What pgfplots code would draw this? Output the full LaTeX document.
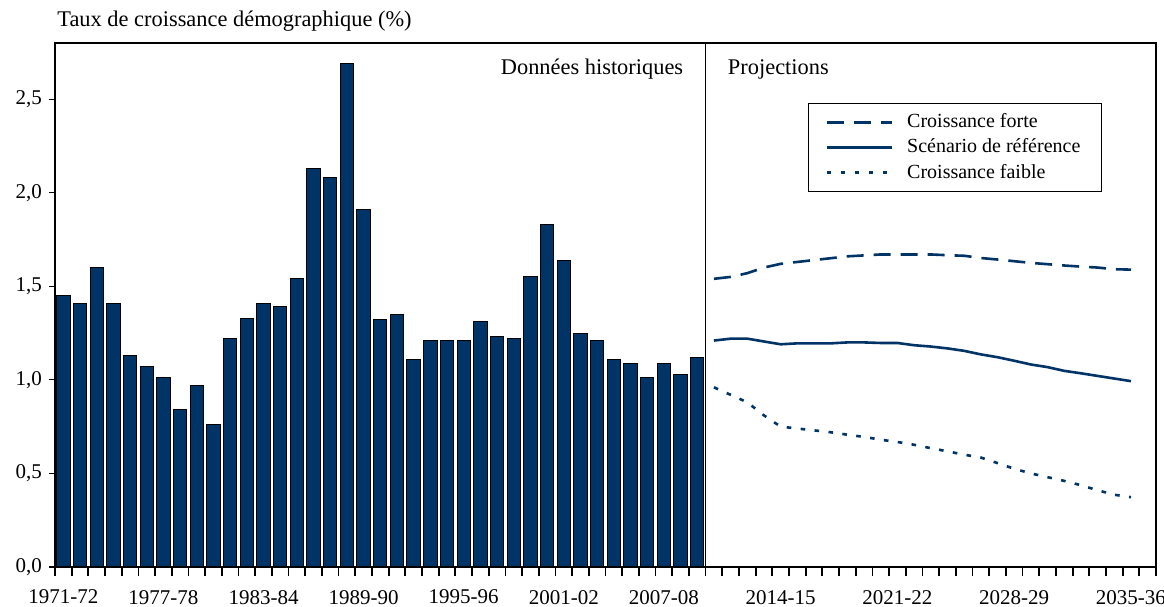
\documentclass[border=0pt]{standalone}
\usepackage{fontspec}
\setmainfont{Liberation Serif}
\usepackage{pgfplots}
\usepackage{pgfplotstable}
\pgfplotsset{compat=1.18}
\usetikzlibrary{calc}
\definecolor{marine}{RGB}{0,51,102}

% taux de croissance historiques (annee de debut)
\pgfplotstableread{
annee taux
1971 1.45
1972 1.41
1973 1.60
1974 1.41
1975 1.13
1976 1.07
1977 1.01
1978 0.84
1979 0.97
1980 0.76
1981 1.22
1982 1.33
1983 1.41
1984 1.39
1985 1.54
1986 2.13
1987 2.08
1988 2.69
1989 1.91
1990 1.32
1991 1.35
1992 1.11
1993 1.21
1994 1.21
1995 1.21
1996 1.31
1997 1.23
1998 1.22
1999 1.55
2000 1.83
2001 1.64
2002 1.25
2003 1.21
2004 1.11
2005 1.09
2006 1.01
2007 1.09
2008 1.03
2009 1.12
}\historique

% projections
\pgfplotstableread{
annee forte reference faible
2010 1.54 1.21 0.96
2011 1.55 1.22 0.92
2012 1.57 1.22 0.88
2013 1.60 1.205 0.81
2014 1.62 1.19 0.75
2015 1.63 1.195 0.74
2016 1.64 1.195 0.73
2017 1.65 1.195 0.72
2018 1.66 1.20 0.707
2019 1.665 1.20 0.695
2020 1.67 1.197 0.68
2021 1.67 1.197 0.668
2022 1.67 1.185 0.653
2023 1.67 1.178 0.635
2024 1.666 1.168 0.618
2025 1.663 1.155 0.60
2026 1.651 1.136 0.585
2027 1.643 1.121 0.555
2028 1.634 1.102 0.525
2029 1.625 1.082 0.50
2030 1.618 1.068 0.48
2031 1.611 1.048 0.46
2032 1.605 1.035 0.437
2033 1.60 1.021 0.41
2034 1.591 1.007 0.386
2035 1.589 0.993 0.373
}\projections

\begin{document}
\begin{tikzpicture}
\begin{axis}[
  scale only axis, width=550.5pt, height=262pt,
  xmin=1970.5, xmax=2036.5, ymin=0, ymax=2.8,
  clip=false,
  xtick={1971,1977,1983,1989,1995,2001,2007,2014,2021,2028,2035},
  xticklabels={1971-72,1977-78,1983-84,1989-90,1995-96,2001-02,2007-08,2014-15,2021-22,2028-29,2035-36},
  major x tick style={draw=none},
  xticklabel style={yshift=-5pt},
  ytick={0,0.5,1,1.5,2,2.5},
  xtick pos=left, ytick pos=left,
  tick align=outside,
  major tick length=3pt,
  tick style={black, line width=0.6pt},
  axis line style={line width=0.6pt},
  tick label style={font=\fontsize{10.5}{12}\selectfont},
  yticklabel style={/pgf/number format/.cd, use comma, fixed, fixed zerofill, precision=1, assume math mode=true},
  legend style={at={(0.684,0.885)}, anchor=north west, draw=black, line width=0.5pt,
    font=\fontsize{10}{12}\selectfont, inner xsep=8.5pt, inner ysep=3pt, row sep=0pt,
    /tikz/every odd column/.append style={column sep=5pt}},
  legend cell align=left,
  legend image code/.code={\draw[#1] (0pt,0pt) -- (32.5pt,0pt);},
]
\addplot[ybar, bar width=0.8, fill=marine, draw=black, line width=0.5pt, forget plot]
  table[x=annee, y=taux] {\historique};

\addplot[marine, line width=1.3pt, dash pattern=on 8.5pt off 5pt] table[x=annee, y=forte] {\projections};
\addlegendentry{Croissance forte}
\addplot[marine, line width=1.3pt] table[x=annee, y=reference] {\projections};
\addlegendentry{Scénario de référence}
\addplot[marine, line width=1.3pt, dash pattern=on 2.3pt off 4.7pt] table[x=annee, y=faible] {\projections};
\addlegendentry{Croissance faible}

% petites graduations entre les annees
\pgfplotsinvokeforeach{0,...,66}{
  \draw[black, line width=0.9pt] (axis cs:1970.5+#1,0) -- ++(0pt,-4.5pt);
}

\draw[line width=0.6pt] (axis cs:2009.5,0) -- (axis cs:2009.5,2.8);
\node[anchor=base east, inner sep=0, xshift=-11pt, yshift=-16pt, font=\fontsize{11.2}{13}\selectfont] at (axis cs:2009.5,2.8) {Données historiques};
\node[anchor=base west, inner sep=0, xshift=11pt, yshift=-16pt, font=\fontsize{11.2}{13}\selectfont] at (axis cs:2009.5,2.8) {Projections};
\node[anchor=base west, inner sep=0, xshift=1pt, yshift=8pt, font=\fontsize{11.2}{13}\selectfont] at (rel axis cs:0,1) {Taux de croissance démographique (\%)};

\coordinate (bl) at (rel axis cs:0,0);
\coordinate (tr) at (rel axis cs:1,1);
\end{axis}
\pgfresetboundingbox
\path ($(bl)+(-27.5pt,-20pt)$) rectangle ($(tr)+(4pt,21.5pt)$);
\end{tikzpicture}
\end{document}
